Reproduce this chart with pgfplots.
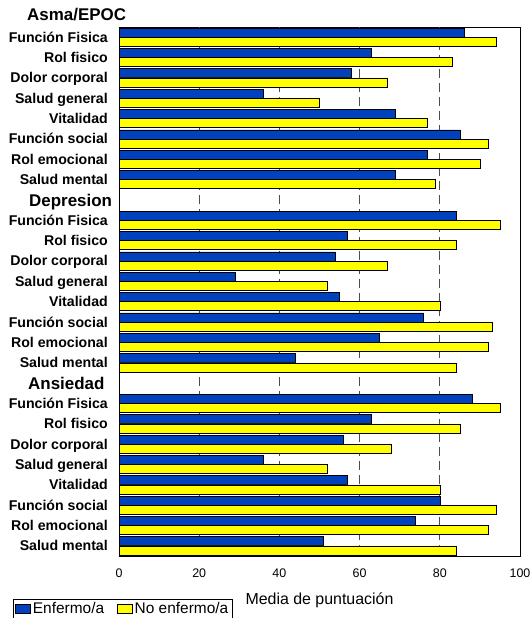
\documentclass[border=0pt]{standalone}
\usepackage{fontspec}
\setmainfont{Liberation Sans}
\usepackage{pgfplots}
\pgfplotsset{compat=1.18}
\definecolor{eblue}{RGB}{0,66,190}
\definecolor{eyellow}{RGB}{255,255,0}
\begin{document}
\begin{tikzpicture}
\path[use as bounding box] (0bp,0bp) rectangle (531bp,618bp);
\begin{axis}[
  at={(119bp,62bp)}, anchor=south west,
  scale only axis, width=401bp, height=529bp,
  xbar, bar width=9bp,
  xmin=0, xmax=100,
  ymin=-0.5, ymax=25.5, y dir=reverse,
  clip=false,
  axis line style={black, line width=0.8bp},
  xtick={0,20,40,60,80,100},
  extra x ticks={20,40,60,80},
  extra x tick labels={},
  extra x tick style={grid=major, major grid style={black!70, line width=0.9bp, dash pattern=on 9bp off 5bp}},
  major tick length=0pt,
  /pgf/number format/assume math mode=true,
  xticklabel style={font=\fontsize{12.5}{14}\selectfont, inner sep=0pt, anchor=north, yshift=-12.5bp},
  ytick={0,1,2,3,4,5,6,7,9,10,11,12,13,14,15,16,18,19,20,21,22,23,24,25},
  yticklabels={Función Fisica,Rol fisico,Dolor corporal,Salud general,Vitalidad,Función social,Rol emocional,Salud mental,
               Función Fisica,Rol fisico,Dolor corporal,Salud general,Vitalidad,Función social,Rol emocional,Salud mental,
               Función Fisica,Rol fisico,Dolor corporal,Salud general,Vitalidad,Función social,Rol emocional,Salud mental},
  yticklabel style={font=\fontsize{14.2}{17}\selectfont\bfseries, inner sep=0pt, anchor=base east, xshift=-11bp, yshift=-5bp},
  xlabel={Media de puntuación},
  xlabel style={font=\fontsize{16}{19}\selectfont, at={(axis description cs:0.5,0)}, anchor=center, yshift=-44bp},
  legend columns=2,
  legend style={at={(axis description cs:-0.2643,-0.0813)}, anchor=north west,
    font=\fontsize{15.5}{18}\selectfont, draw=black, line width=0.6bp,
    inner xsep=2bp, inner ysep=1bp,
    /tikz/every even column/.append style={column sep=11bp}},
  legend image code/.code={\draw[#1, line width=0.6bp] (0bp,-4.5bp) rectangle (15bp,4.5bp);},
]
\addplot[fill=eblue, draw=black, line width=0.6bp, bar shift=4.6bp] coordinates {
  (86,0) (63,1) (58,2) (36,3) (69,4) (85,5) (77,6) (69,7)
  (84,9) (57,10) (54,11) (29,12) (55,13) (76,14) (65,15) (44,16)
  (88,18) (63,19) (56,20) (36,21) (57,22) (80,23) (74,24) (51,25)
};
\addplot[fill=eyellow, draw=black, line width=0.6bp, bar shift=-4.6bp] coordinates {
  (94,0) (83,1) (67,2) (50,3) (77,4) (92,5) (90,6) (79,7)
  (95,9) (84,10) (67,11) (52,12) (80,13) (93,14) (92,15) (84,16)
  (95,18) (85,19) (68,20) (52,21) (80,22) (94,23) (92,24) (84,25)
};
\legend{Enfermo/a, No enfermo/a}
\node[anchor=base west, font=\fontsize{17}{20}\selectfont\bfseries, inner sep=0pt, xshift=-92bp, yshift=-3.5bp] at (axis cs:0,-1) {Asma/EPOC};
\node[anchor=base west, font=\fontsize{17}{20}\selectfont\bfseries, inner sep=0pt, xshift=-90bp, yshift=-6.1bp] at (axis cs:0,8) {Depresion};
\node[anchor=base west, font=\fontsize{17}{20}\selectfont\bfseries, inner sep=0pt, xshift=-91bp, yshift=-6.1bp] at (axis cs:0,17) {Ansiedad};
\end{axis}
\end{tikzpicture}
\end{document}
